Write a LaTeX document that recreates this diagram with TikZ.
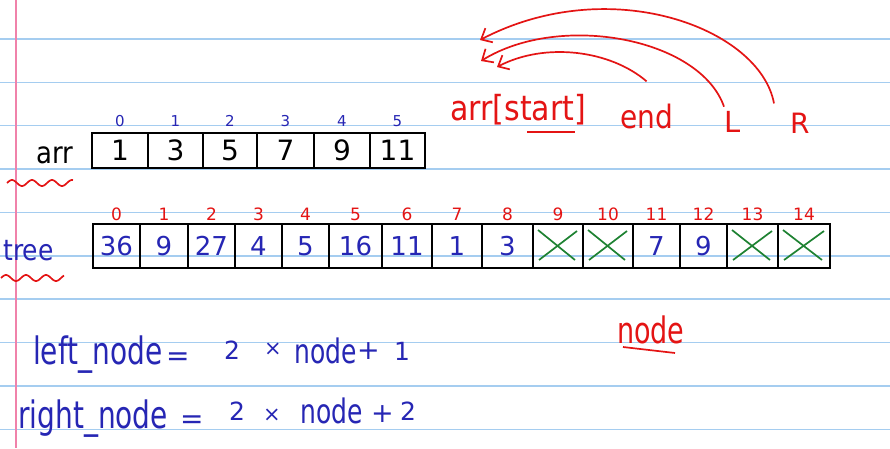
\documentclass[tikz,border=0pt]{standalone}
\usepackage{graphicx}
\usepackage{fontspec}
\setmainfont{DejaVu Sans}
\usetikzlibrary{arrows.meta,calc}
\definecolor{ink}{RGB}{38,38,180}
\definecolor{pen}{RGB}{228,20,20}
\definecolor{grn}{RGB}{30,130,50}
\definecolor{rulec}{RGB}{165,205,240}
\definecolor{marginc}{RGB}{240,130,170}
\newcommand{\tallA}[1]{\scalebox{1}[1.35]{#1}}
\newcommand{\tallB}[1]{\scalebox{1}[1.15]{#1}}
\tikzset{
 acell/.style={draw=black, line width=1.7pt, minimum height=35pt, inner sep=0pt, outer sep=0pt, font=\fontsize{28}{28}\selectfont},
 tcell/.style={draw=black, line width=1.9pt, minimum height=44pt, inner sep=0pt, outer sep=0pt, text=ink, font=\fontsize{26}{26}\selectfont},
 aidx/.style={text=ink, inner sep=0pt, font=\fontsize{15}{15}\selectfont},
 tidx/.style={text=pen, inner sep=0pt, font=\fontsize{17}{17}\selectfont},
 redtxt/.style={text=pen, inner sep=0pt, anchor=base west},
 bluetxt/.style={text=ink, inner sep=0pt, anchor=base west, font=\fontsize{28}{28}\selectfont},
 bluedig/.style={bluetxt, font=\fontsize{25}{25}\selectfont},
 bluetimes/.style={bluetxt, font=\fontsize{21}{21}\selectfont},
 blueplus/.style={bluetxt, font=\fontsize{27}{27}\selectfont},
 redarr/.style={draw=pen, line width=1.7pt, -{Straight Barb[length=9pt,width=16pt]}},
 squig/.style={draw=pen, line width=1.7pt},
 xmark/.style={draw=grn, line width=1.7pt},
 ruled/.style={draw=rulec, line width=1.5pt}
}
\begin{document}
\begin{tikzpicture}[x=1pt,y=-1pt]
\useasboundingbox (0,0) rectangle (890,448);
\fill[white] (0,0) rectangle (890,448);
% ruled paper
\foreach \k in {0,...,9} \draw[ruled] (0,{39+43.37*\k}) -- (890,{39+43.37*\k});
\draw[marginc, line width=1.4pt] (16,0) -- (16,448);

% arr array
\foreach \a/\b/\v/\i in {92/148/1/0,148/203/3/1,203/257/5/2,257/314/7/3,314/370/9/4,370/425/11/5} {
  \pgfmathsetmacro\w{\b-\a}
  \pgfmathsetmacro\c{(\a+\b)/2}
  \node[acell, minimum width=\w pt] (a\i) at (\c,150.5) {\v};
  \node[aidx, anchor=south] (ai\i) at ([yshift=6pt]a\i.north) {\i};
}
\node[anchor=base west, inner sep=0pt, font=\fontsize{26}{26}\selectfont] (arrlbl) at (36,163) {\tallB{arr}};
\draw[squig] plot[domain=7:73,samples=80,smooth] (\x,{183-3*sin(18*(\x-7))});

% tree array
\foreach \a/\b/\v/\i in {93/140/36/0,140/188/9/1,188/235/27/2,235/282/4/3,282/329/5/4,329/382/16/5,382/432/11/6,432/482/1/7,482/533/3/8,533/583/{}/9,583/633/{}/10,633/680/7/11,680/727/9/12,727/778/{}/13,778/830/{}/14} {
  \pgfmathsetmacro\w{\b-\a}
  \pgfmathsetmacro\c{(\a+\b)/2}
  \node[tcell, minimum width=\w pt] (t\i) at (\c,246) {\v};
  \node[tidx, anchor=south] (ti\i) at ([yshift=3pt]t\i.north) {\i};
}
\foreach \i in {9,10,13,14} {
  \draw[xmark] ([shift={(5pt,-6pt)}]t\i.north west) -- ([shift={(-8pt,8pt)}]t\i.south east);
  \draw[xmark] ([shift={(6pt,8pt)}]t\i.south west) -- ([shift={(-6pt,-7pt)}]t\i.north east);
}
\node[text=ink, anchor=base west, inner sep=0pt, font=\fontsize{25}{25}\selectfont] (treelbl) at (3,260) {\tallB{tree}};
\draw[squig] plot[domain=1:64,samples=80,smooth] (\x,{278-3*sin(18*(\x-1))});

% red labels and arrows
\node[redtxt, font=\fontsize{30}{30}\selectfont] (arrstart) at (450,120) {\tallB{arr[start]}};
\draw[pen, line width=1.7pt] (527,132) -- (575,132);
\node[redtxt, font=\fontsize{28}{28}\selectfont] (endlbl) at (620,128) {\tallB{end}};
\node[redtxt, font=\fontsize{29}{29}\selectfont] (Llbl) at (724,132) {L};
\node[redtxt, font=\fontsize{28}{28}\selectfont] (Rlbl) at (790,133) {R};
\coordinate (tipE) at (497,67);
\coordinate (tipL) at (481,61);
\coordinate (tipR) at (480,40);
\draw[redarr] ([yshift=22pt]endlbl.north) .. controls (610,50) and (545,42) .. (tipE);
\draw[redarr] ([yshift=4pt]Llbl.north west) .. controls (700,38) and (560,12) .. (tipL);
\draw[redarr] ([shift={(-16pt,9pt)}]Rlbl.north west) .. controls (760,28) and (610,-28) .. (tipR);

\node[redtxt, font=\fontsize{27}{27}\selectfont] (nodelbl) at (617,343) {\tallA{node}};
\draw[pen, line width=1.7pt] (623,347) -- (675,353);

% formulas
\node[bluetxt] (lf1) at (33,364) {\tallA{left\_node}};
\node[bluetxt] (lf2) at (166,365) {=};
\node[bluedig] (lf3) at (224,359) {2};
\node[bluetimes] (lf4) at (264,355) {×};
\node[bluetxt, font=\fontsize{25}{25}\selectfont] (lf5) at (294,363) {\tallA{node}};
\node[blueplus] (lf6) at (357,359) {+};
\node[bluedig] (lf7) at (394,360) {1};

\node[bluetxt] (rf1) at (18,428) {\tallA{right\_node}};
\node[bluetxt] (rf2) at (180,428) {=};
\node[bluedig] (rf3) at (229,420) {2};
\node[bluetimes] (rf4) at (263,421) {×};
\node[bluetxt, font=\fontsize{25}{25}\selectfont] (rf5) at (300,423) {\tallA{node}};
\node[blueplus] (rf6) at (371,422) {+};
\node[bluedig] (rf7) at (400,420) {2};
\end{tikzpicture}
\end{document}
